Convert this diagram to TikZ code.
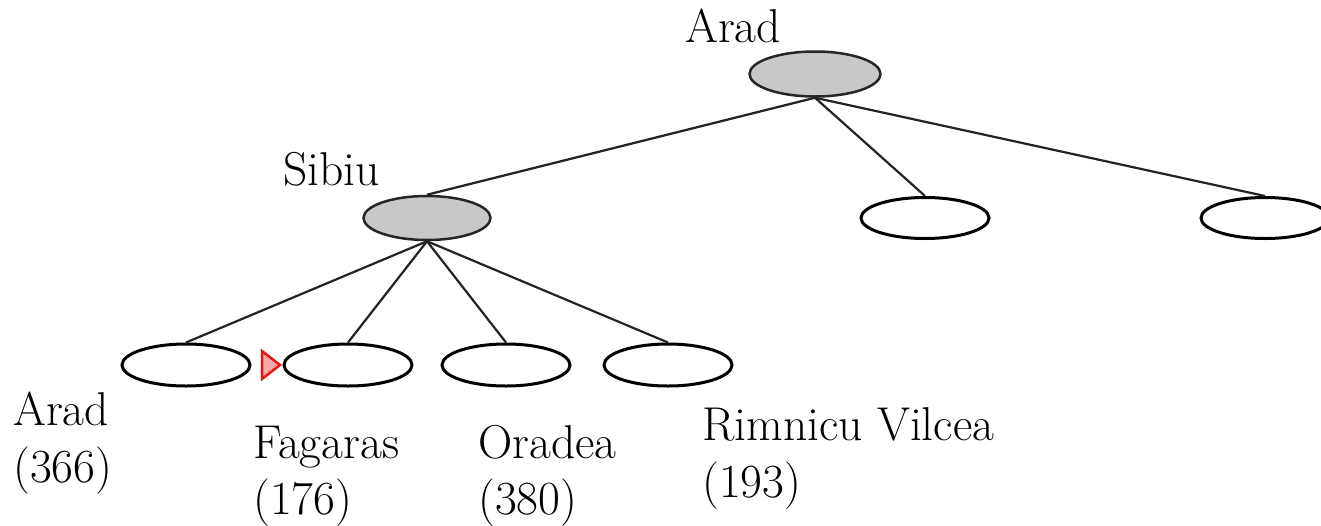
\documentclass[tikz,border=0pt]{standalone}
\usepackage{fontspec}
\definecolor{nodegray}{RGB}{200,200,200}
\definecolor{edgegray}{RGB}{35,35,35}
\definecolor{markred}{RGB}{235,20,20}
\definecolor{markpink}{RGB}{245,170,170}
\tikzset{
  state/.style={ellipse, draw=black, line width=3pt, fill=white,
    minimum width=128pt, minimum height=42pt, inner sep=0pt},
  expanded/.style={state, fill=nodegray, line width=2.5pt, draw=black!85},
  branch/.style={draw=edgegray, line width=2.2pt},
  lbl/.style={anchor=base west, inner sep=0pt, font=\rmfamily\fontsize{47.5}{57}\selectfont}
}
\usetikzlibrary{shapes.geometric}
\begin{document}
\begin{tikzpicture}[x=1pt, y=-1pt]
  \clip (0,0) rectangle (1321,525);
  \fill[white] (0,0) rectangle (1321,525);

  % search tree: root, first expansion, second expansion
  \node[expanded, minimum width=131pt, minimum height=45pt] (root) at (815,74) {};
  \node[expanded, minimum width=127pt, minimum height=44pt] (sibiu) at (427,218) {};
  \node[state, minimum height=41pt] (mid) at (925,218) {};
  \node[state, minimum height=41pt] (right) at (1265,218) {};

  \node[state] (c1) at (186,365) {};
  \node[state] (c2) at (348,365) {};
  \node[state] (c3) at (506,365) {};
  \node[state] (c4) at (668,365) {};

  \draw[branch] (root.south) -- (sibiu.north);
  \draw[branch] (root.south) -- (mid.north);
  \draw[branch] (root.south) -- (right.north);
  \foreach \c in {c1,c2,c3,c4}
    \draw[branch] (sibiu.south) -- (\c.north);

  % marker for the next node to expand
  \draw[markred, fill=markpink, line width=2.5pt, line join=miter]
    (262,351) -- (280,365) -- (262,379) -- cycle;

  % labels
  \node[lbl] (tRoot) at (685,42) {Arad};
  \node[lbl] (tSibiu) at (283,185) {Sibiu};
  \node[lbl] (t1a) at (13,425) {Arad};
  \node[lbl] (t1b) at (13,482) {(366)};
  \node[lbl] (t2a) at (253,458) {Fagaras};
  \node[lbl] (t2b) at (253,514) {(176)};
  \node[lbl] (t3a) at (478,458) {Oradea};
  \node[lbl] (t3b) at (478,514) {(380)};
  \node[lbl] (t4a) at (702,440) {Rimnicu Vilcea};
  \node[lbl] (t4b) at (702,497) {(193)};
\end{tikzpicture}
\end{document}
